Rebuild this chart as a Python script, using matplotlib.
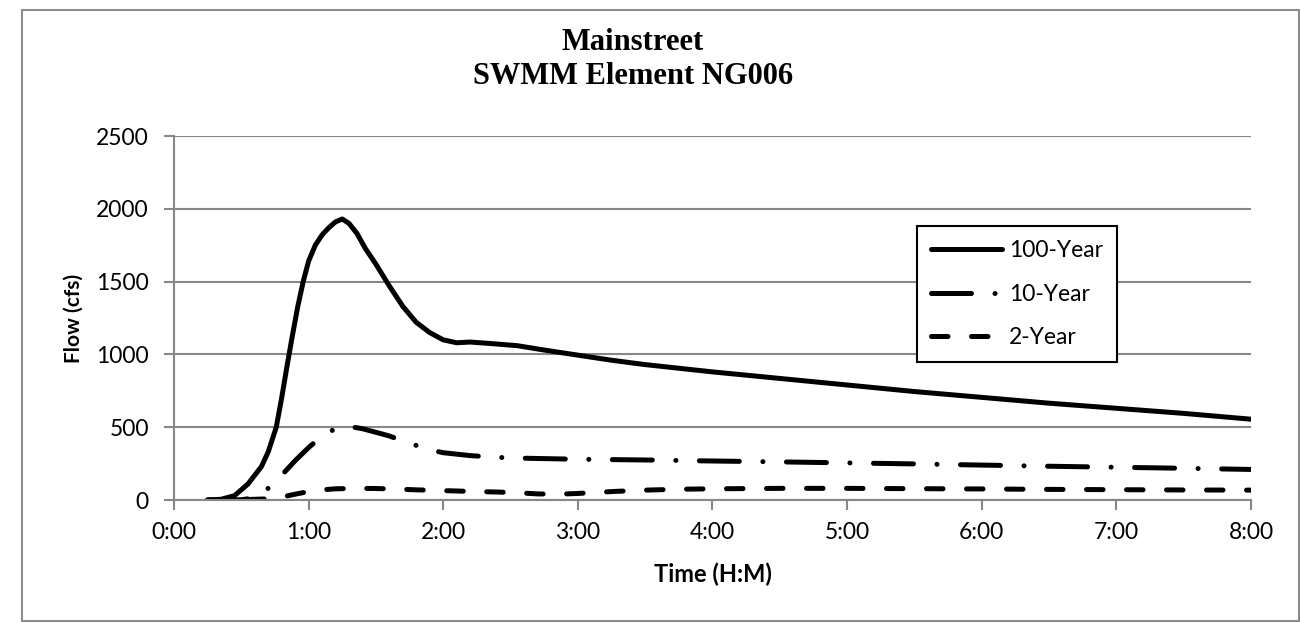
import matplotlib
matplotlib.use("Agg")
import matplotlib.pyplot as plt
from matplotlib.patches import Rectangle

# hydrograph values (time in hours, flow in cfs)
t100 = [0.25, 0.35, 0.45, 0.55, 0.65, 0.70, 0.76, 0.80, 0.84, 0.88, 0.92, 0.96, 1.00, 1.05,
        1.10, 1.15, 1.20, 1.25, 1.30, 1.36, 1.42, 1.50, 1.60, 1.70, 1.80, 1.90, 2.00, 2.10,
        2.20, 2.35, 2.55, 2.75, 3.00, 3.25, 3.50, 4.00, 4.50, 5.00, 5.50, 6.00, 6.50, 7.00,
        7.50, 8.00]
q100 = [0, 5, 30, 110, 230, 330, 500, 700, 920, 1130, 1330, 1500, 1640, 1750,
        1820, 1870, 1910, 1930, 1900, 1830, 1730, 1620, 1470, 1330, 1220, 1150, 1100, 1080,
        1085, 1075, 1060, 1030, 995, 960, 930, 880, 835, 790, 745, 705, 665, 630,
        595, 555]

t10 = [0.25, 0.40, 0.50, 0.60, 0.70, 0.80, 0.90, 1.00, 1.10, 1.20, 1.30, 1.40, 1.50, 1.60,
       1.70, 1.80, 1.90, 2.00, 2.20, 2.40, 2.60, 3.00, 3.50, 4.00, 4.50, 5.00, 5.50, 6.00,
       6.50, 7.00, 7.50, 8.00]
q10 = [0, 0, 2, 15, 80, 170, 270, 360, 440, 490, 505, 490, 465, 440,
       405, 375, 345, 325, 305, 293, 287, 280, 275, 268, 262, 255, 248, 240,
       232, 225, 218, 210]

t2 = [0.25, 0.50, 0.70, 0.80, 0.90, 1.00, 1.10, 1.20, 1.35, 1.50, 1.65, 1.80, 1.95, 2.10,
      2.25, 2.40, 2.55, 2.70, 2.85, 3.00, 3.25, 3.50, 3.75, 4.00, 4.50, 5.00, 5.50, 6.00,
      6.50, 7.00, 7.50, 8.00]
q2 = [0, 2, 8, 20, 40, 58, 70, 77, 80, 79, 75, 70, 66, 62,
      58, 55, 50, 42, 40, 45, 58, 68, 74, 77, 80, 80, 78, 76,
      73, 71, 69, 68]

xticks = [0, 1, 2, 3, 4, 5, 6, 7, 8]
xlabels = ["0:00", "1:00", "2:00", "3:00", "4:00", "5:00", "6:00", "7:00", "8:00"]
yticks = [0, 500, 1000, 1500, 2000, 2500]

sans = ["Lato", "DejaVu Sans"]
serif = ["Liberation Serif", "DejaVu Serif"]
grey = "#878787"

fig = plt.figure(figsize=(13, 6.23), dpi=100)
# outer chart border
fig.patches.append(Rectangle((22 / 1300, 2 / 623), 1277 / 1300, 611 / 623,
                             transform=fig.transFigure, fill=False,
                             edgecolor="#8c8c8c", linewidth=1.5))
ax = fig.add_axes([0.1338, 0.1974, 0.8285, 0.5843])

lw = 3.6
ax.plot(t100, q100, color="black", lw=lw, solid_capstyle="round", label="100-Year")
ax.plot(t10, q10, color="black", lw=lw, dashes=(8, 4.7, 0.01, 4.7),
        dash_capstyle="round", label="10-Year")
ax.plot(t2, q2, color="black", lw=lw, dashes=(3.3, 4.7), dash_capstyle="round",
        label="2-Year")

ax.set_xlim(0, 8)
ax.set_ylim(0, 2500)
ax.set_xticks(xticks)
ax.set_xticklabels(xlabels)
ax.set_yticks(yticks)
ax.grid(axis="y", color=grey, lw=1.5)
ax.set_axisbelow(True)
for s in ["top", "right"]:
    ax.spines[s].set_visible(False)
for s in ["left", "bottom"]:
    ax.spines[s].set_color(grey)
    ax.spines[s].set_linewidth(1.5)
ax.tick_params(axis="both", direction="out", length=7, width=1.5, color=grey,
               labelsize=16.5)
ax.tick_params(axis="y", pad=11)
ax.tick_params(axis="x", pad=9)
for lab in ax.get_xticklabels() + ax.get_yticklabels():
    lab.set_family(sans)

ax.set_xlabel("Time (H:M)", family=sans, fontsize=17, fontweight="bold", labelpad=14)
ax.set_ylabel("Flow (cfs)", family=sans, fontsize=15, fontweight="bold", labelpad=9)

fig.text(633 / 1300, 1 - 43 / 623, "Mainstreet", ha="center", va="center", family=serif,
         fontsize=22, fontweight="bold")
fig.text(633 / 1300, 1 - 77 / 623, "SWMM Element NG006", ha="center", va="center",
         family=serif, fontsize=22, fontweight="bold")

leg = ax.legend(loc="upper left", bbox_to_anchor=(0.690, 0.753), frameon=True, fancybox=False,
                edgecolor="black", framealpha=1, prop={"family": sans, "size": 16.5},
                handlelength=3.1, handletextpad=0.3, labelspacing=1.0, borderpad=0.6,
                borderaxespad=0)
leg.get_frame().set_linewidth(1.5)

fig.savefig("out.png", dpi=100)
